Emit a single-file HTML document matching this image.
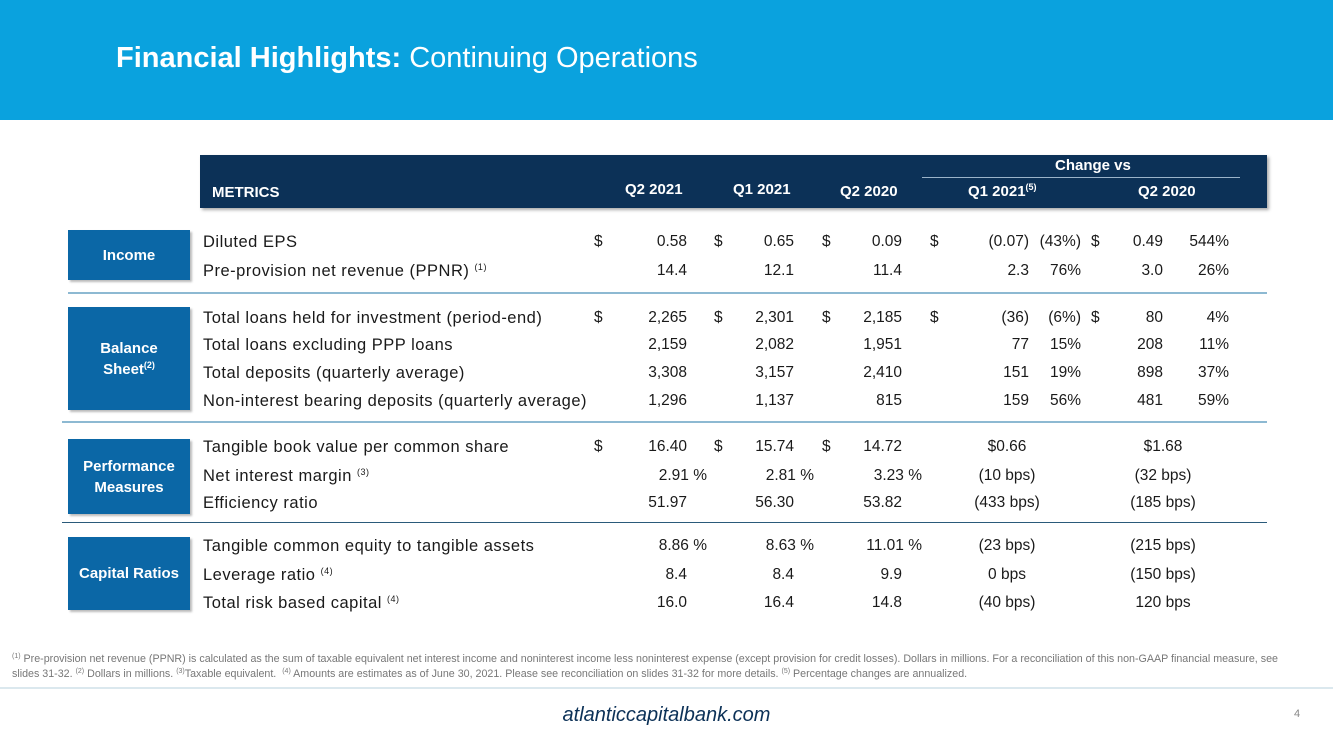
<!DOCTYPE html>
<html><head><meta charset="utf-8"><style>
body{margin:0;width:1333px;height:750px;position:relative;background:#fff;font-family:"Liberation Sans",sans-serif;overflow:hidden;color:#1a1a1a}
.a{position:absolute;white-space:nowrap;line-height:20px;font-size:15.5px}
.lbl{font-size:16.5px;letter-spacing:0.5px}
.r{text-align:right}
.c{text-align:center}
.box{position:absolute;left:68px;width:122px;background:#0b67a6;color:#fff;font-weight:bold;font-size:15px;display:flex;align-items:center;justify-content:center;text-align:center;line-height:21px;box-shadow:2px 2px 2px #bbb}
.hd{position:absolute;color:#fff;font-weight:bold;font-size:15px;line-height:20px;white-space:nowrap}
sup{font-size:9px;vertical-align:6px;line-height:0}
.line{position:absolute;height:2px}
.fn sup{font-size:7px;vertical-align:4px}
</style></head><body>
<div style="position:absolute;left:0;top:0;width:1333px;height:120px;background:#0aa2de"></div>
<div style="position:absolute;left:116px;top:40px;color:#fff;font-size:29px;line-height:36px;white-space:nowrap"><b>Financial Highlights:</b> Continuing Operations</div>
<div style="position:absolute;left:200px;top:155px;width:1067px;height:53px;background:#0c3157;box-shadow:2px 2px 3px #aaa"></div>
<div class="hd" style="left:212px;top:183px">METRICS</div>
<div class="hd" style="left:625px;top:180px">Q2 2021</div>
<div class="hd" style="left:733px;top:180px">Q1 2021</div>
<div class="hd" style="left:840px;top:182px">Q2 2020</div>
<div class="hd" style="left:1055px;top:156px">Change vs</div>
<div style="position:absolute;left:922px;top:177px;width:318px;height:1px;background:#9bb3c9"></div>
<div class="hd" style="left:968px;top:182px">Q1 2021<sup>(5)</sup></div>
<div class="hd" style="left:1138px;top:182px">Q2 2020</div>

<div class="box" style="top:230px;height:50px">Income</div>
<div class="box" style="top:307px;height:103px"><span>Balance<br>Sheet<sup>(2)</sup></span></div>
<div class="box" style="top:439px;height:75px"><span>Performance<br>Measures</span></div>
<div class="box" style="top:537px;height:73px">Capital Ratios</div>

<div class="line" style="left:68px;top:292px;width:1199px;background:#8db9d2"></div>
<div class="line" style="left:62px;top:421px;width:1205px;background:#8db9d2"></div>
<div class="line" style="left:62px;top:522px;width:1205px;height:1px;background:#2a5a7a"></div>

<div id="rows"></div>

<div class="fn" style="position:absolute;left:12px;top:652px;width:1295px;font-size:10.7px;line-height:15px;color:#777"><sup>(1)</sup> Pre-provision net revenue (PPNR) is calculated as the sum of taxable equivalent net interest income and noninterest income less noninterest expense (except provision for credit losses). Dollars in millions. For a reconciliation of this non-GAAP financial measure, see slides 31-32. <sup>(2)</sup> Dollars in millions. <sup>(3)</sup>Taxable equivalent.&nbsp; <sup>(4)</sup> Amounts are estimates as of June 30, 2021. Please see reconciliation on slides 31-32 for more details. <sup>(5)</sup> Percentage changes are annualized.</div>
<div style="position:absolute;left:0;top:687px;width:1333px;height:2px;background:#dbe8ee"></div>
<div style="position:absolute;left:0;width:1333px;top:704px;text-align:center;font-style:italic;font-size:20px;color:#0c3157">atlanticcapitalbank.com</div>
<div style="position:absolute;left:1294px;top:708px;font-size:11px;color:#888">4</div>

<script>
const rowY=[242,271,318,345,373,401,447,476,503,546,575,603];
const labels=["Diluted EPS","Pre-provision net revenue (PPNR) <sup>(1)</sup>","Total loans held for investment (period-end)","Total loans excluding PPP loans","Total deposits (quarterly average)","Non-interest bearing deposits (quarterly average)","Tangible book value per common share","Net interest margin <sup>(3)</sup>","Efficiency ratio","Tangible common equity to tangible assets","Leverage ratio <sup>(4)</sup>","Total risk based capital <sup>(4)</sup>"];
const q2021=["0.58","14.4","2,265","2,159","3,308","1,296","16.40","2.91 %","51.97","8.86 %","8.4","16.0"];
const q1021=["0.65","12.1","2,301","2,082","3,157","1,137","15.74","2.81 %","56.30","8.63 %","8.4","16.4"];
const q2020=["0.09","11.4","2,185","1,951","2,410","815","14.72","3.23 %","53.82","11.01 %","9.9","14.8"];
const chgQ1=["(0.07)","2.3","(36)","77","151","159","$0.66","(10 bps)","(433 bps)","(23 bps)","0 bps","(40 bps)"];
const pctQ1=["(43%)","76%","(6%)","15%","19%","56%","","","","","",""];
const chgQ2=["0.49","3.0","80","208","898","481","$1.68","(32 bps)","(185 bps)","(215 bps)","(150 bps)","120 bps"];
const pctQ2=["544%","26%","4%","11%","37%","59%","","","","","",""];
const dollarRows=[0,2,6];
const root=document.getElementById('rows');
function put(html,x,y,cls,name){
  const d=document.createElement('div');
  d.className='a '+(cls||'');
  d.innerHTML=html;
  
  
  d.style.top=(y-10)+'px';
  if(cls==='r'){d.style.left=(x-200)+'px';d.style.width='200px';}
  else if(cls==='c'){d.style.left=(x-100)+'px';d.style.width='200px';}
  else d.style.left=x+'px';
  root.appendChild(d);
}
function pctAware(v,x){return v.endsWith('%')&&v.includes(' ')?x+20:x;}
for(let i=0;i<rowY.length;i++){
  const y=rowY[i];
  put(labels[i],203,y,'lbl','row-label');
  const big=pctQ1[i]!=='';
  put(q2021[i],pctAware(q2021[i],687),y,'r','value-q2-2021');
  put(q1021[i],pctAware(q1021[i],794),y,'r','value-q1-2021');
  put(q2020[i],pctAware(q2020[i],902),y,'r','value-q2-2020');
  if(big){
    put(chgQ1[i],1029,y,'r','change-q1-2021');
    put(pctQ1[i],1081,y,'r','pct-change-q1-2021');
    put(chgQ2[i],1163,y,'r','change-q2-2020');
    put(pctQ2[i],1229,y,'r','pct-change-q2-2020');
  }else{
    put(chgQ1[i],1007,y,'c','change-q1-2021');
    put(chgQ2[i],1163,y,'c','change-q2-2020');
  }
  if(dollarRows.includes(i)){
    put('$',594,y,'','dollar-sign');
    put('$',714,y,'','dollar-sign');
    put('$',822,y,'','dollar-sign');
    if(i!==6){put('$',930,y,'','dollar-sign');put('$',1091,y,'','dollar-sign');}
  }
}
</script>
</body></html>
